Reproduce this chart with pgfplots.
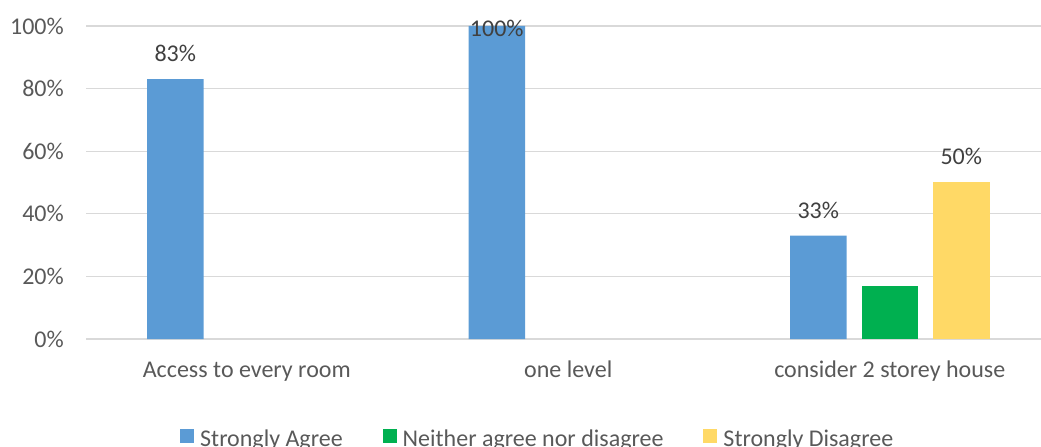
\documentclass[border=0pt]{standalone}
\usepackage{pgfplots}
\usepackage{pgfplotstable}
\usepackage{fontspec}
\setmainfont{Carlito}
\pgfplotsset{compat=1.18}

\definecolor{cAgree}{HTML}{5B9BD5}
\definecolor{cNeither}{HTML}{00B050}
\definecolor{cDisagree}{HTML}{FFD966}
\definecolor{cGrid}{HTML}{D9D9D9}
\definecolor{cAxisText}{HTML}{595959}
\definecolor{cLabel}{HTML}{404040}

% responses (%) per question: 0 = access to every room, 1 = one level, 2 = consider 2 storey house
\pgfplotstableread{
x y
0 83
1 100
2 33
}\agree
\pgfplotstableread{
x y
2 17
}\neither
\pgfplotstableread{
x y
2 50
}\disagree

\begin{document}
\begin{tikzpicture}
\path[use as bounding box] (0,0) rectangle (1041bp,447bp);
\begin{axis}[
  at={(86bp,108bp)}, anchor=south west,
  scale only axis,
  width=964.5bp, height=313bp,
  xmin=-0.5, xmax=2.5,
  ymin=0, ymax=100,
  clip=false,
  ybar=15bp,
  bar width=56.5bp,
  axis line style={draw=none},
  major tick length=0pt,
  ymajorgrids,
  grid style={cGrid, line width=1.2bp},
  ytick={0,20,40,60,80,100},
  yticklabel={\pgfmathprintnumber[assume math mode=true]{\tick}\%},
  yticklabel style={anchor=east, inner sep=0pt, xshift=-22bp},
  xtick={0,1,2},
  xticklabels={Access to every room, one level, consider 2 storey house},
  xticklabel style={anchor=base, inner sep=0pt, yshift=-38bp},
  tick label style={font=\fontsize{24bp}{28bp}\selectfont, text=cAxisText},
  legend columns=3,
  legend image code/.code={\fill[#1] (0bp,-1bp) rectangle (14bp,13bp);},
  legend style={
    draw=none, fill=none,
    at={(axis cs:-0.5,0)}, anchor=south west,
    xshift=94bp, yshift=-115bp,
    font=\fontsize{24bp}{28bp}\selectfont, text=cAxisText,
    inner sep=0pt,
    nodes={inner sep=0pt, text depth=7bp},
    /tikz/every odd column/.append style={column sep=6bp},
    /tikz/every even column/.append style={column sep=40bp},
  },
  nodes near coords={\pgfmathprintnumber[assume math mode=true]{\pgfplotspointmeta}\%},
  visualization depends on={y \as \rawy},
  every node near coord/.append style={
    font=\fontsize{24bp}{28bp}\selectfont, text=cLabel,
    anchor=south, inner sep=0pt, text depth=0pt,
    yshift={\rawy>99 ? -11 : 17.5}},
]
\addplot[fill=cAgree, draw=none] table {\agree};
\addlegendentry{Strongly Agree}
\addplot[fill=cNeither, draw=none, nodes near coords=] table {\neither};
\addlegendentry{Neither agree nor disagree}
\addplot[fill=cDisagree, draw=none] table {\disagree};
\addlegendentry{Strongly Disagree}
\end{axis}
\end{tikzpicture}
\end{document}
